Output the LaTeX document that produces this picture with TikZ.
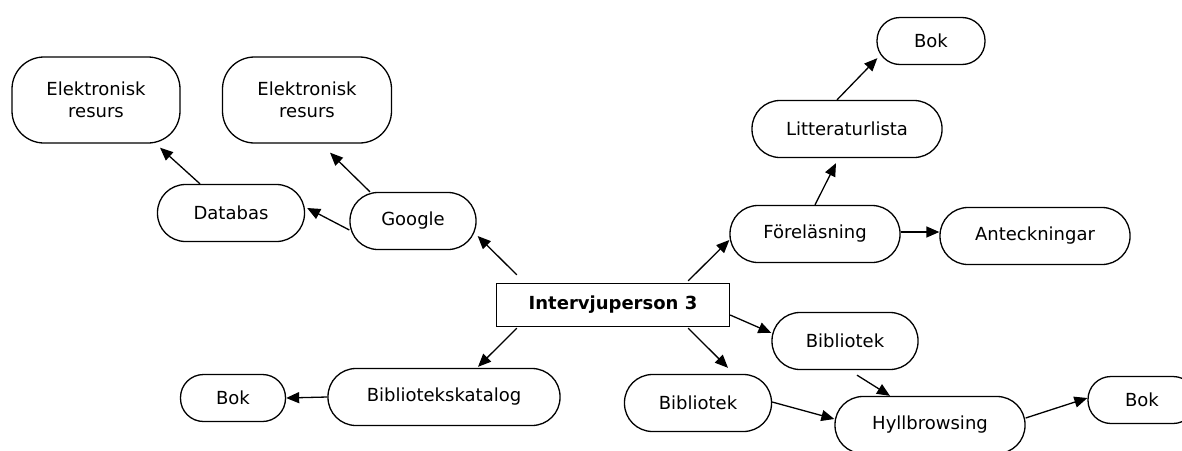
\documentclass[tikz,border=0pt]{standalone}
\usepackage{fontspec}
\setmainfont{DejaVu Sans}
\usetikzlibrary{arrows.meta,calc}
\begin{document}
\begin{tikzpicture}[x=1pt,y=-1pt,
  box/.style={draw, line width=1.3pt, rounded corners=28pt, inner sep=0pt,
    minimum height=57pt, align=center, font=\fontsize{18}{22}\selectfont},
  tallbox/.style={box, minimum height=86pt, rounded corners=32pt},
  smallbox/.style={box, minimum height=47pt, rounded corners=23pt},
  hub/.style={draw, line width=1.3pt, inner sep=0pt, minimum width=233pt,
    minimum height=43pt, font=\fontsize{18}{22}\selectfont\bfseries},
  arr/.style={line width=1.3pt, -{Triangle[length=13pt,width=11pt]}}]
\useasboundingbox (0,0) rectangle (1182,450);

% central topic
\node[hub] (ip) at (613,305) {Intervjuperson 3};

% left branch
\node[tallbox, minimum width=168pt] (erl) at (96,100) {Elektronisk\\resurs};
\node[tallbox, minimum width=169pt] (erm) at (307,100) {Elektronisk\\resurs};
\node[box, minimum width=147pt] (db) at (231,213) {Databas};
\node[box, minimum width=126pt] (go) at (413,221) {Google};
\node[box, minimum width=232pt] (bk) at (444,397) {Bibliotekskatalog};
\node[smallbox, minimum width=105pt] (bokl) at (233,398) {Bok};

% upper right branch
\node[smallbox, minimum width=108pt] (bokt) at (931,41) {Bok};
\node[box, minimum width=190pt] (lit) at (847,129) {Litteraturlista};
\node[box, minimum width=170pt] (fo) at (815,234) {Föreläsning};
\node[box, minimum width=190pt] (ant) at (1035,236) {Anteckningar};

% lower right branch
\node[box, minimum width=146pt] (bibu) at (845,341) {Bibliotek};
\node[box, minimum width=147pt] (bibl) at (698,403) {Bibliotek};
\node[box, minimum width=190pt] (hyl) at (930,425) {Hyllbrowsing};
\node[smallbox, minimum width=108pt] (bokr) at (1142,400) {Bok};

% connectors
\draw[arr] ($(ip.north west)+(21,-8)$) -- ($(go.east)+(1,15)$);
\draw[arr] ($(go.north)+(-43,0)$) -- ($(erm.south)+(23,9)$);
\draw[arr] ($(go.west)+(0,9)$) -- ($(db.east)+(2,-5)$);
\draw[arr] ($(db.north)+(-31,0)$) -- ($(erl.south)+(64,4)$);
\draw[arr] ($(ip.south west)+(21,1)$) -- ($(bk.north)+(34,-1)$);
\draw[arr] (bk.west) -- (bokl.east);
\draw[arr] ($(ip.north east)+(-42,-2)$) -- ($(fo.west)+(0,6)$);
\draw[arr] (fo.north) -- ($(lit.south)+(-11,5)$);
\draw[arr] ($(lit.north)+(-10,0)$) -- ($(bokt.south west)+(1,-7)$);
\draw[arr] ($(fo.east)+(0,-2)$) -- ($(ant.west)+(0,-4)$);
\draw[arr] ($(ip.east)+(0,10)$) -- ($(bibu.west)+(0,-8)$);
\draw[arr] ($(ip.south east)+(-42,1)$) -- ($(bibl.north)+(30,-6)$);
\draw[arr] ($(bibu.south)+(12,5)$) -- ($(hyl.north)+(-40,0)$);
\draw[arr] ($(bibl.east)+(0,-1)$) -- ($(hyl.west)+(0,-6)$);
\draw[arr] ($(hyl.east)+(0,-7)$) -- ($(bokr.west)+(0,-2)$);
\end{tikzpicture}
\end{document}
